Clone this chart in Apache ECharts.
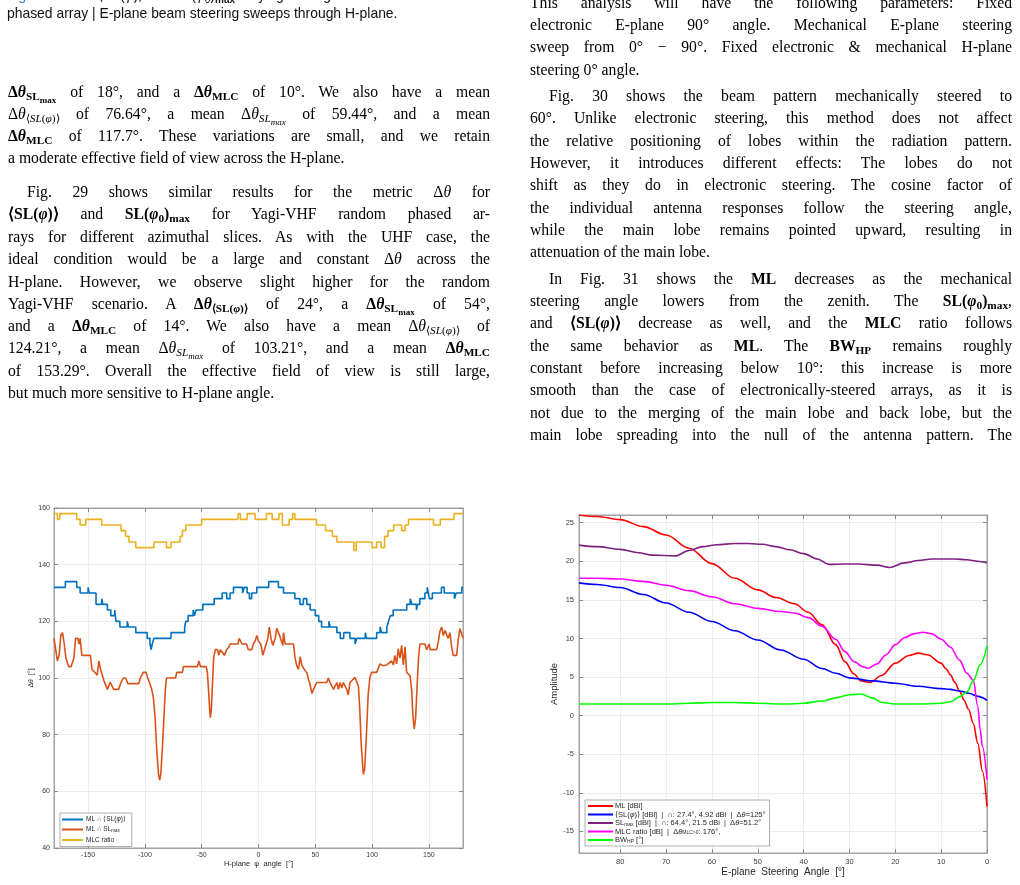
<!DOCTYPE html>
<html lang="en">
<head>
<meta charset="utf-8">
<title>Fig. 29 / Fig. 31</title>
<script src="https://cdn.jsdelivr.net/npm/echarts@6/dist/echarts.min.js"></script>
<style>
    html, body { margin: 0; padding: 0; background: #fff; }
    #page { position: relative; width: 1020px; height: 885px; overflow: hidden; background: #fff; }
    #plots { position: absolute; left: 0; top: 0; width: 1020px; height: 885px; }
    .t { position: absolute; width: 482px; height: 22px; line-height: 22px; font-family: 'Liberation Serif', 'Times New Roman', serif;
         font-size: 15.7px; color: #000; text-align: justify; text-align-last: justify; }
    .t.e { text-align-last: left; }
    .t.i { text-indent: 19px; }
    .c1 { left: 8px; }
    .c2 { left: 530px; }
    .cap { position: absolute; left: 7px; height: 16px; line-height: 16px; font-family: 'Liberation Sans', Arial, sans-serif;
           font-size: 13.9px; color: #111; white-space: nowrap; }
    sub { font-size: 0.72em; line-height: 0; vertical-align: -0.28em; }
    sub sub { font-size: 0.8em; }
</style>
</head>
<body>
<div id="page">
    <div id="plots"></div>

    <div class="cap" style="top:-13px"><span style="color:#3b7bbf">Fig. 28.</span> Δ<i>θ</i> for ⟨SL(<i>φ</i>)⟩ and SL(<i>φ</i><sub>0</sub>)<b><sub>max</sub></b> varying for Yagi-UHF random</div>
    <div class="cap" style="top:5px">phased array | E-plane beam steering sweeps through H-plane.</div>

    <div class="t c1" style="top:81px"><b>Δ<i>θ</i><sub>SL<sub>max</sub></sub></b> of 18°, and a <b>Δ<i>θ</i><sub>MLC</sub></b> of 10°. We also have a mean</div>
    <div class="t c1" style="top:103px">Δ<i>θ</i><sub>⟨<i>SL</i>(<i>φ</i>)⟩</sub> of 76.64°, a mean Δ<i>θ</i><sub><i>SL<sub>max</sub></i></sub> of 59.44°, and a mean</div>
    <div class="t c1" style="top:125px"><b>Δ<i>θ</i><sub>MLC</sub></b> of 117.7°. These variations are small, and we retain</div>
    <div class="t c1 e" style="top:147px">a moderate effective field of view across the H-plane.</div>
    <div class="t c1 i" style="top:181px">Fig. 29 shows similar results for the metric Δ<i>θ</i> for</div>
    <div class="t c1" style="top:203px"><b>⟨SL(<i>φ</i>)⟩</b> and <b>SL(<i>φ</i><sub>0</sub>)<sub>max</sub></b> for Yagi-VHF random phased ar-</div>
    <div class="t c1" style="top:226px">rays for different azimuthal slices. As with the UHF case, the</div>
    <div class="t c1" style="top:248px">ideal condition would be a large and constant Δ<i>θ</i> across the</div>
    <div class="t c1" style="top:271px">H-plane. However, we observe slight higher for the random</div>
    <div class="t c1" style="top:293px">Yagi-VHF scenario. A <b>Δ<i>θ</i><sub>⟨SL(<i>φ</i>)⟩</sub></b> of 24°, a <b>Δ<i>θ</i><sub>SL<sub>max</sub></sub></b> of 54°,</div>
    <div class="t c1" style="top:315px">and a <b>Δ<i>θ</i><sub>MLC</sub></b> of 14°. We also have a mean Δ<i>θ</i><sub>⟨<i>SL</i>(<i>φ</i>)⟩</sub> of</div>
    <div class="t c1" style="top:337px">124.21°, a mean Δ<i>θ</i><sub><i>SL<sub>max</sub></i></sub> of 103.21°, and a mean <b>Δ<i>θ</i><sub>MLC</sub></b></div>
    <div class="t c1" style="top:360px">of 153.29°. Overall the effective field of view is still large,</div>
    <div class="t c1 e" style="top:382px">but much more sensitive to H-plane angle.</div>

    <div class="t c2" style="top:-8px">This analysis will have the following parameters: Fixed</div>
    <div class="t c2" style="top:14px">electronic E-plane 90° angle. Mechanical E-plane steering</div>
    <div class="t c2" style="top:36px">sweep from 0° − 90°. Fixed electronic &amp; mechanical H-plane</div>
    <div class="t c2 e" style="top:59px">steering 0° angle.</div>
    <div class="t c2 i" style="top:85px">Fig. 30 shows the beam pattern mechanically steered to</div>
    <div class="t c2" style="top:107px">60°. Unlike electronic steering, this method does not affect</div>
    <div class="t c2" style="top:130px">the relative positioning of lobes within the radiation pattern.</div>
    <div class="t c2" style="top:152px">However, it introduces different effects: The lobes do not</div>
    <div class="t c2" style="top:174px">shift as they do in electronic steering. The cosine factor of</div>
    <div class="t c2" style="top:197px">the individual antenna responses follow the steering angle,</div>
    <div class="t c2" style="top:219px">while the main lobe remains pointed upward, resulting in</div>
    <div class="t c2 e" style="top:241px">attenuation of the main lobe.</div>
    <div class="t c2 i" style="top:268px">In Fig. 31 shows the <b>ML</b> decreases as the mechanical</div>
    <div class="t c2" style="top:290px">steering angle lowers from the zenith. The <b>SL(<i>φ</i><sub>0</sub>)<sub>max</sub></b>,</div>
    <div class="t c2" style="top:312px">and <b>⟨SL(<i>φ</i>)⟩</b> decrease as well, and the <b>MLC</b> ratio follows</div>
    <div class="t c2" style="top:335px">the same behavior as <b>ML</b>. The <b>BW<sub>HP</sub></b> remains roughly</div>
    <div class="t c2" style="top:357px">constant before increasing below 10°: this increase is more</div>
    <div class="t c2" style="top:379px">smooth than the case of electronically-steered arrays, as it is</div>
    <div class="t c2" style="top:402px">not due to the merging of the main lobe and back lobe, but the</div>
    <div class="t c2" style="top:424px">main lobe spreading into the null of the antenna pattern. The</div>
</div>

<script>
    // Fig. 29 : delta-theta vs H-plane angle (step values, [phi, deg])
    var mlSlMean = [
        [-180, 132], [-170, 134], [-160, 132], [-157, 130], [-150, 132], [-149, 130], [-143, 126], [-138, 128], [-137, 126],
        [-133, 124], [-130, 122], [-126.5, 124], [-125.5, 120], [-122, 118], [-115.5, 120], [-114.5, 118], [-108, 116],
        [-98, 114], [-95.5, 112], [-94.5, 110], [-93.5, 112], [-92, 114], [-77, 116], [-65, 118], [-64, 120], [-62, 122],
        [-57.5, 124], [-56.5, 122], [-55, 124], [-49, 126], [-39, 128], [-32, 130], [-28, 128], [-25, 130], [-22, 132],
        [-14, 130], [-12.5, 132], [-10, 130], [-8, 128], [-6, 130], [-1.5, 132], [9, 134], [17.5, 132], [22, 130],
        [32, 128], [36.5, 126], [39.5, 128], [42.5, 126], [45.5, 124], [50, 122], [53, 120], [55.5, 118], [62, 120],
        [63, 118], [69, 116], [72, 114], [75, 116], [80.5, 114], [85, 112], [86.5, 114], [94, 116], [95, 114], [104, 116],
        [107, 118], [108.5, 116], [113, 118], [114.5, 120], [116, 122], [118.5, 124], [130.5, 126], [133.5, 128],
        [135, 126], [139, 124], [140, 126], [142, 128], [146.5, 130], [148.5, 132], [149.5, 130], [150.5, 128],
        [153, 130], [161, 132], [163.5, 130], [172.5, 128], [174, 130], [179, 132], [180, 132]
    ];
    var mlSlMax = [
        [-180, 114], [-178.5, 110], [-177, 106], [-175.5, 108], [-174, 115], [-172.5, 116], [-171, 112], [-169.5, 107],
        [-167, 104], [-165, 104], [-162.5, 107], [-161, 114], [-159, 114], [-158, 112], [-157, 114], [-155.5, 108],
        [-148, 108], [-146.5, 103], [-144, 102], [-142, 101], [-140.5, 106], [-139, 103], [-136, 99], [-133, 96],
        [-130.5, 98.5], [-127.5, 96], [-123, 96], [-121.5, 98], [-119, 100], [-117, 100], [-115, 98], [-105.5, 98],
        [-104, 100], [-101.5, 102], [-99, 102], [-97.5, 100], [-96.5, 99], [-94, 96], [-92.5, 93], [-91, 86],
        [-89.5, 74], [-88, 66], [-87, 64], [-86, 66], [-84.5, 76], [-83, 88], [-82, 96], [-81, 100], [-73, 100],
        [-72, 102], [-67, 102], [-66, 104], [-54, 104], [-53, 105], [-52.5, 106], [-51, 104], [-46, 104], [-45, 102],
        [-44, 96], [-43, 89], [-42.4, 86], [-41.5, 89], [-40.5, 98], [-39.5, 107], [-38, 110], [-36, 110], [-35, 108],
        [-33.5, 110], [-32, 110], [-30, 108], [-28, 110], [-26, 111], [-25, 112], [-18, 112], [-17, 114], [-16, 114],
        [-14.5, 112], [-10.5, 112], [-9, 110], [-6, 110], [-4.5, 112], [-3, 113], [-1.5, 115], [0, 113], [2, 112],
        [3.8, 108], [6, 111], [8, 113.5], [9.5, 118], [11, 114], [12.6, 111.5], [14.7, 114], [16, 117.5], [17.6, 118],
        [19, 114.5], [21.4, 111.5], [22, 116], [23.5, 112], [30.8, 112], [32.2, 107], [33.7, 104.3], [35.2, 103],
        [36.6, 107.5], [38.1, 104.6], [39.6, 103.5], [42.5, 101.8], [44, 99.5], [45.4, 97.7], [47, 94.5], [48.4, 96],
        [51.3, 98.4], [60, 98.4], [61.5, 100], [63, 98.4], [66, 96], [69, 98.4], [70.3, 96], [71.8, 98.4], [73.3, 96.5],
        [74.7, 98.4], [77.7, 96], [79, 94], [80.5, 98.4], [85, 100.2], [86.4, 100.2], [88, 97], [89, 90], [90.5, 76],
        [92.3, 66], [93.5, 68], [95, 80], [96.5, 94], [98, 100], [99.6, 102], [104, 102], [107, 105], [110, 104.3],
        [112.8, 104.6], [117.2, 106], [118.7, 104.6], [120, 108], [121.6, 105], [123, 110.3], [124.5, 107], [126, 111.5],
        [127.5, 104.6], [129, 111], [130.4, 102], [132, 102.5], [133.4, 100.8], [134.8, 96], [136, 86], [137.1, 82],
        [138.3, 86], [139.7, 98], [141, 108], [142.1, 112], [146.5, 112], [148, 110], [149.4, 110], [150.3, 112],
        [151, 110], [156.8, 110], [158.3, 113], [159.7, 116.5], [161.2, 118], [162.6, 115], [164.1, 116.8],
        [165.6, 115.3], [167, 114], [168.5, 116], [170, 111], [171.4, 108], [174.4, 108], [175.8, 113.4], [177.3, 117.5],
        [178.8, 118], [180, 114]
    ];
    var mlcRatio = [
        [-180, 158], [-177, 156], [-175, 158], [-160, 156], [-157, 154], [-152, 156], [-138, 154], [-121, 152], [-117, 150],
        [-114, 148], [-108, 146], [-92, 148], [-81, 146], [-77, 148], [-69, 150], [-67, 152], [-64, 154], [-50, 156],
        [-18, 158], [-16, 156], [-10, 158], [-3, 156], [7, 158], [12, 156], [18, 158], [21, 154], [27, 156], [30, 158],
        [32, 156], [51, 154], [59, 152], [65, 150], [69, 148], [84, 145], [86, 148], [100, 146], [104, 148], [108, 146],
        [111, 150], [114, 152], [119, 154], [126, 152], [129, 154], [132, 156], [154, 154], [160, 156], [172, 158], [180, 158]
    ];
    var phiTicks = [-150, -100, -50, 0, 50, 100, 150];
    var dthetaTicks = [40, 60, 80, 100, 120, 140, 160];

    // Fig. 31 : metrics vs mechanical E-plane steering angle ([angle, value])
    var steerML = [
        [89, 26.0], [85, 25.8], [80, 25.4], [75, 24.5], [70, 23.4], [65, 21.7], [60, 19.7], [55, 17.8], [50, 16.3],
        [46, 15.3], [42, 14.5], [39, 13.4], [36, 11.8], [33, 9.2], [31, 7.0], [29, 5.4], [27.5, 4.5], [25.5, 4.3],
        [23, 5.2], [20, 6.8], [17, 7.8], [15, 8.1], [13, 7.9], [10, 6.8], [9, 6.1], [8, 5.3], [7, 4.3], [6, 3.2],
        [5, 2.0], [4, 0.8], [3, -1.0], [2, -3.6], [1, -7.2], [0, -11.8]
    ];
    var steerSlMean = [
        [89, 17.2], [85, 17.0], [80, 16.6], [75, 15.7], [70, 14.6], [65, 13.4], [60, 12.2], [55, 11.0], [50, 9.8],
        [45, 8.5], [40, 7.3], [36, 6.1], [33, 5.5], [30, 4.9], [25, 4.5], [20, 4.2], [15, 3.8], [10, 3.5], [8, 3.4],
        [6, 3.2], [4, 2.9], [2, 2.5], [0, 2.0]
    ];
    var steerSlMax = [
        [89, 22.1], [85, 21.9], [80, 21.55], [76, 21.1], [73, 20.8], [68, 20.7], [65, 21.4], [62, 21.9], [59, 22.15],
        [55, 22.3], [52, 22.3], [49, 22.2], [46, 21.9], [43, 21.5], [40, 21.0], [37, 20.3], [34.5, 19.6], [31, 19.65],
        [28, 19.65], [24, 19.5], [21.3, 19.2], [18, 19.8], [15, 20.1], [12, 20.3], [7, 20.3], [4.4, 20.2], [2, 20.0],
        [0, 19.8]
    ];
    var steerMLC = [
        [89, 17.8], [85, 17.8], [80, 17.7], [75, 17.4], [70, 16.9], [65, 16.2], [60, 15.4], [55, 14.5], [50, 13.9],
        [45, 13.5], [42, 13.3], [39, 12.7], [36, 11.6], [33, 9.9], [31, 8.3], [29, 7.0], [27, 6.3], [26, 6.15],
        [24, 6.7], [22, 7.9], [20, 9.2], [18, 10.1], [16, 10.6], [14, 10.8], [12, 10.6], [10, 9.9], [8, 8.9], [6, 7.2],
        [4.4, 5.5], [3, 4.6], [2, 1.2], [1.5, -1.8], [1, -4.0], [0, -8.3]
    ];
    var steerBW = [
        [89, 1.5], [80, 1.5], [70, 1.5], [65, 1.6], [60, 1.7], [55, 1.7], [50, 1.6], [44, 1.5], [40, 1.6], [36, 1.9],
        [33, 2.3], [30, 2.7], [27.5, 2.8], [25, 2.3], [23, 1.7], [20, 1.5], [15, 1.5], [10, 1.6], [8, 1.8], [5.8, 2.5],
        [4.4, 3.1], [2.9, 4.6], [1.5, 6.6], [0, 9.0]
    ];
    var steerTicks = [0, 10, 20, 30, 40, 50, 60, 70, 80];
    var ampTicks = [-15, -10, -5, 0, 5, 10, 15, 20, 25];

    var FONT = "'Liberation Sans', Arial, sans-serif";
    var BOX = '#a3a3a3';

    function mainAxis(grid, min, max, ticks, pos, extra) {
        var ax = {
            gridIndex: grid, type: 'value', min: min, max: max, position: pos,
            axisLine: { show: true, onZero: false, lineStyle: { color: BOX, width: 1 } },
            axisTick: { show: true, inside: true, length: 4, customValues: ticks, lineStyle: { color: '#8a8a8a' } },
            axisLabel: { show: true, customValues: ticks, fontSize: 7, color: '#3a3a3a', fontFamily: FONT, margin: 4 },
            splitLine: { show: true, lineStyle: { color: '#ececec', width: 1 } }
        };
        for (var k in extra) ax[k] = extra[k];
        return ax;
    }

    function boxAxis(grid, min, max, ticks, pos, inverse) {
        return {
            gridIndex: grid, type: 'value', min: min, max: max, position: pos, inverse: !!inverse,
            axisLine: { show: true, onZero: false, lineStyle: { color: BOX, width: 1 } },
            axisTick: { show: true, inside: true, length: 4, customValues: ticks, lineStyle: { color: '#8a8a8a' } },
            axisLabel: { show: false },
            splitLine: { show: false }
        };
    }

    function line(name, data, color, xi, yi, extra) {
        var s = {
            name: name, type: 'line', data: data, xAxisIndex: xi, yAxisIndex: yi,
            symbol: 'none', lineStyle: { color: color, width: 1.6 }, itemStyle: { color: color },
            animation: false
        };
        for (var k in extra) s[k] = extra[k];
        return s;
    }

    var richText = {
        n: { fontSize: 7.5, fontFamily: FONT, color: '#262626' },
        i: { fontSize: 7.5, fontFamily: FONT, fontStyle: 'italic', color: '#262626' },
        s: { fontSize: 5, fontFamily: FONT, color: '#262626', verticalAlign: 'bottom', padding: [3, 0, 0, 0] },
        m: { fontSize: 6.5, fontFamily: FONT, color: '#262626' },
        mi: { fontSize: 6.5, fontFamily: FONT, fontStyle: 'italic', color: '#262626' },
        ms: { fontSize: 4.5, fontFamily: FONT, color: '#262626', verticalAlign: 'bottom', padding: [3, 0, 0, 0] }
    };

    var legendLabels = {
        'a1': '{m|ML ∩ ⟨SL(}{mi|φ}{m|)⟩}',
        'a2': '{m|ML ∩ SL}{ms|max}',
        'a3': '{m|MLC ratio}',
        'b1': '{n|ML [dBi]}',
        'b2': '{n|⟨SL(}{i|φ}{n|)⟩ [dBi]  |  ∩: 27.4°, 4.92 dBi  |  Δ}{i|θ}{n|=125°}',
        'b3': '{n|SL}{s|max}{n| [dBi]  |  ∩: 64.4°, 21.5 dBi  |  Δ}{i|θ}{n|=51.2°}',
        'b4': '{n|MLC ratio [dB]  |  Δ}{i|θ}{s|MLC>0}{n|: 176°,}',
        'b5': '{n|BW}{s|HP}{n| [°]}'
    };

    var option = {
        backgroundColor: '#fff',
        animation: false,
        textStyle: { fontFamily: FONT },
        grid: [
            { left: 54, top: 508, width: 409, height: 340, show: true, borderColor: BOX, borderWidth: 1, backgroundColor: '#fff' },
            { left: 579, top: 515, width: 408, height: 338, show: true, borderColor: BOX, borderWidth: 1, backgroundColor: '#fff' }
        ],
        xAxis: [
            mainAxis(0, -180, 180, phiTicks, 'bottom', {
                name: 'H-plane  φ  angle  [°]', nameLocation: 'middle', nameGap: 12,
                nameTextStyle: { fontSize: 7.5, color: '#262626', fontFamily: FONT }
            }),
            boxAxis(0, -180, 180, phiTicks, 'top'),
            mainAxis(1, 0, 89, steerTicks, 'bottom', {
                inverse: true, name: 'E-plane  Steering  Angle  [°]', nameLocation: 'middle', nameGap: 14,
                nameTextStyle: { fontSize: 10, color: '#262626', fontFamily: FONT },
                axisLabel: { customValues: steerTicks, fontSize: 7.5, color: '#3a3a3a', fontFamily: FONT, margin: 5 }
            }),
            boxAxis(1, 0, 89, steerTicks, 'top', true)
        ],
        yAxis: [
            mainAxis(0, 40, 160, dthetaTicks, 'left', {
                name: 'Δθ  [°]', nameLocation: 'middle', nameGap: 17,
                nameTextStyle: { fontSize: 7, color: '#262626', fontFamily: FONT }
            }),
            boxAxis(0, 40, 160, dthetaTicks, 'right'),
            mainAxis(1, -17.8, 26, ampTicks, 'left', {
                name: 'Amplitude', nameLocation: 'middle', nameGap: 16,
                nameTextStyle: { fontSize: 9.5, color: '#262626', fontFamily: FONT },
                axisLabel: { customValues: ampTicks, fontSize: 7.5, color: '#3a3a3a', fontFamily: FONT, margin: 5 }
            }),
            boxAxis(1, -17.8, 26, ampTicks, 'right')
        ],
        legend: [
            {
                data: ['a1', 'a2', 'a3'], left: 60, top: 813, orient: 'vertical', selectedMode: false,
                icon: 'rect', itemWidth: 21, itemHeight: 2, itemGap: 3, padding: [3, 6, 3, 2],
                borderColor: '#9a9a9a', borderWidth: 0.8, backgroundColor: '#fff',
                textStyle: { rich: richText, padding: [0, 0, 0, -2] },
                formatter: function (name) { return legendLabels[name]; }
            },
            {
                data: ['b1', 'b2', 'b3', 'b4', 'b5'], left: 585, top: 800, orient: 'vertical', selectedMode: false,
                icon: 'rect', itemWidth: 25, itemHeight: 2, itemGap: 0.5, padding: [2, 4, 2, 3],
                borderColor: '#9a9a9a', borderWidth: 0.8, backgroundColor: '#fff',
                textStyle: { rich: richText, padding: [0, 0, 0, -3] },
                formatter: function (name) { return legendLabels[name]; }
            }
        ],
        series: [
            line('a1', mlSlMean, '#0072BD', 0, 0, { step: 'end' }),
            line('a2', mlSlMax, '#D95319', 0, 0),
            line('a3', mlcRatio, '#EDB120', 0, 0, { step: 'end' }),
            line('b1', steerML, '#FF0000', 2, 2, { smooth: 0.35, smoothMonotone: 'x' }),
            line('b2', steerSlMean, '#0000FF', 2, 2, { smooth: 0.35, smoothMonotone: 'x' }),
            line('b3', steerSlMax, '#7F1F80', 2, 2, { smooth: 0.35, smoothMonotone: 'x' }),
            line('b4', steerMLC, '#FF00FF', 2, 2, { smooth: 0.35, smoothMonotone: 'x' }),
            line('b5', steerBW, '#00FF00', 2, 2, { smooth: 0.35, smoothMonotone: 'x' })
        ]
    };

    var myChart = echarts.init(document.getElementById('plots'), null, { renderer: 'canvas', width: 1020, height: 885 });
    myChart.setOption(option);
</script>
</body>
</html>
